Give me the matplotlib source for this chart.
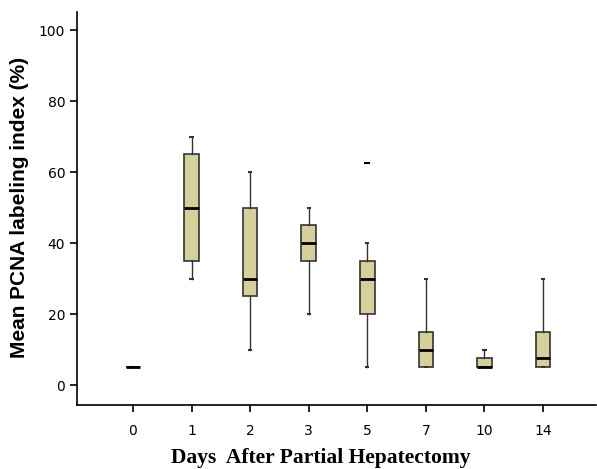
import matplotlib
matplotlib.use("Agg")
from matplotlib import pyplot as plt

# 术后天数与各组统计量
days = ["0", "1", "2", "3", "5", "7", "10", "14"]
whisker_low = [5, 30, 10, 20, 5, 5, 5, 5]
q1 = [5, 35, 25, 35, 20, 5, 5, 5]
median = [5, 50, 30, 40, 30, 10, 5, 7.5]
q3 = [5, 65, 50, 45, 35, 15, 7.5, 15]
whisker_high = [5, 70, 60, 50, 40, 30, 10, 30]
outliers = [[], [], [], [], [62.5], [], [], []]

y_ticks = [0, 20, 40, 60, 80, 100]

BOX_COLOR = "#d5d09b"
EDGE_COLOR = "#333333"
W, H = 597, 469


def build_stats():
    stats = []
    for i, label in enumerate(days):
        stats.append({
            "label": label,
            "whislo": whisker_low[i],
            "q1": q1[i],
            "med": median[i],
            "q3": q3[i],
            "whishi": whisker_high[i],
            "fliers": outliers[i],
        })
    return stats


def main():
    fig = plt.figure(figsize=(W / 100, H / 100), dpi=100)
    ax = fig.add_axes([0.129, 0.1365, 0.869, 0.8375])

    ax.bxp(
        build_stats(),
        positions=range(len(days)),
        widths=0.25,
        patch_artist=True,
        showcaps=True,
        boxprops=dict(facecolor=BOX_COLOR, edgecolor=EDGE_COLOR, linewidth=1.2),
        medianprops=dict(color="black", linewidth=2),
        whiskerprops=dict(color=EDGE_COLOR, linewidth=1),
        capprops=dict(color=EDGE_COLOR, linewidth=1.5),
        capwidths=0.04,
        flierprops=dict(marker="_", markersize=4, markeredgecolor="black",
                        markeredgewidth=1.5),
    )

    ax.set_xlim(-0.955, 7.9)
    ax.set_ylim(-5.63, 105.07)
    ax.set_yticks(y_ticks)
    ax.set_xticks(range(len(days)))
    ax.set_xticklabels(days)

    for side in ["top", "right"]:
        ax.spines[side].set_visible(False)
    ax.spines["left"].set_linewidth(1.2)
    ax.spines["bottom"].set_linewidth(1.2)
    ax.tick_params(axis="both", direction="out", length=5, width=1.2,
                   labelsize=10, colors="black")
    ax.tick_params(axis="x", pad=9)

    # 坐标轴标题
    fig.text(20 / W, 1 - 207 / H, "Mean PCNA labeling index (%)",
             fontsize=15, fontweight="bold", family="Liberation Sans",
             rotation=90, ha="center", va="center")
    fig.text(321 / W, 6 / H, "Days  After Partial Hepatectomy",
             fontsize=15.5, fontweight="bold", family="Liberation Serif",
             ha="center", va="baseline")

    fig.savefig("out.png", dpi=100)
    plt.close(fig)


main()
